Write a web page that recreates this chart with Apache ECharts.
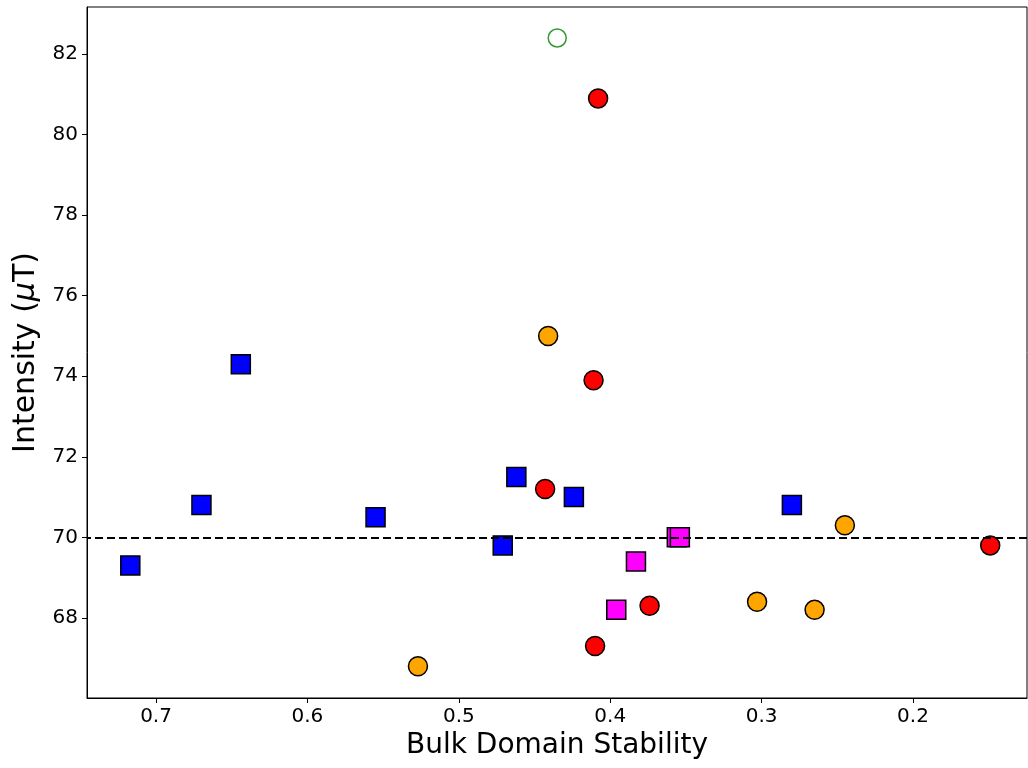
<!DOCTYPE html>
<html>
<head>
<meta charset="utf-8">
<script src="https://cdn.jsdelivr.net/npm/echarts@6/dist/echarts.min.js"></script>
<style>
  html, body { margin: 0; padding: 0; background: #fff; }
  #chart { width: 1028px; height: 768px; }
</style>
</head>
<body>
<div id="chart"></div>
<script>
  // data: [stability, intensity]
  const blueSquares = [[0.717, 69.3], [0.670, 70.8], [0.644, 74.3], [0.555, 70.5], [0.471, 69.8], [0.462, 71.5], [0.424, 71.0], [0.280, 70.8]]
  const magentaSquares = [[0.396, 68.2], [0.383, 69.4], [0.356, 70.0], [0.354, 70.0]]
  const redCircles = [[0.408, 80.9], [0.411, 73.9], [0.443, 71.2], [0.374, 68.3], [0.410, 67.3], [0.149, 69.8]]
  const orangeCircles = [[0.441, 75.0], [0.527, 66.8], [0.303, 68.4], [0.265, 68.2], [0.245, 70.3]]
  const greenOpen = [[0.435, 82.4]]
  const refLine = 70
  const xTicks = [0.2, 0.3, 0.4, 0.5, 0.6, 0.7]
  const yTicks = [68, 70, 72, 74, 76, 78, 80, 82]

  const chart = echarts.init(document.getElementById('chart'))
  const font = 'DejaVu Sans'

  function scatter(data, symbol, color, size) {
    return {
      type: 'scatter',
      data: data,
      symbol: symbol,
      symbolSize: size,
      itemStyle: { color: color, borderColor: '#000', borderWidth: 1.5, opacity: 1 }
    }
  }

  const option = {
    animation: false,
    backgroundColor: '#fff',
    grid: { left: 87, right: 1, top: 7, bottom: 70, show: true, borderColor: '#000', borderWidth: 1 },
    xAxis: {
      type: 'value',
      inverse: true,
      min: 0.1247,
      max: 0.7456,
      name: 'Bulk Domain Stability',
      nameLocation: 'middle',
      nameGap: 33,
      nameTextStyle: { fontFamily: font, fontSize: 28, color: '#000' },
      splitLine: { show: false },
      axisLine: { lineStyle: { color: '#000', width: 1 } },
      axisTick: { customValues: xTicks, length: 5, lineStyle: { color: '#000' } },
      axisLabel: { customValues: xTicks, fontFamily: font, fontSize: 20, color: '#000', margin: 9, formatter: (v) => v.toFixed(1) }
    },
    yAxis: {
      type: 'value',
      min: 66.01,
      max: 83.17,
      name: 'Intensity ({i|μ}T)',
      nameLocation: 'middle',
      nameRotate: 90,
      nameGap: 35,
      nameTextStyle: {
        fontFamily: font, fontSize: 30, color: '#000',
        rich: { i: { fontFamily: font, fontSize: 30, fontStyle: 'italic', color: '#000' } }
      },
      splitLine: { show: false },
      axisLine: { show: true, lineStyle: { color: '#000', width: 1 } },
      axisTick: { show: true, customValues: yTicks, length: 5, lineStyle: { color: '#000' } },
      axisLabel: { customValues: yTicks, fontFamily: font, fontSize: 20, color: '#000', margin: 9 }
    },
    series: [
      {
        type: 'scatter',
        data: [],
        markLine: {
          silent: true,
          symbol: 'none',
          label: { show: false },
          lineStyle: { color: '#000', type: [8, 4], width: 2 },
          data: [{ yAxis: refLine }]
        }
      },
      scatter(blueSquares, 'rect', '#0000ff', 19),
      scatter(magentaSquares, 'rect', '#ff00ff', 19),
      scatter(redCircles, 'circle', '#ff0000', 19),
      scatter(orangeCircles, 'circle', '#ffa500', 19),
      {
        type: 'scatter',
        data: greenOpen,
        symbol: 'circle',
        symbolSize: 18,
        itemStyle: { color: 'rgba(255,255,255,0)', borderColor: '#008000', borderWidth: 1.5 }
      }
    ]
  }

  chart.setOption(option)
</script>
</body>
</html>
